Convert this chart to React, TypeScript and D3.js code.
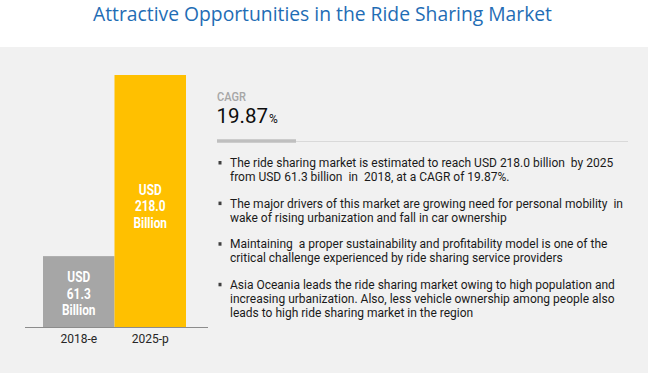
import React from "react";
import * as d3 from "d3";

const categories = ["2018-e", "2025-p"];
const values = [61.3, 218.0];
const barColors = ["#a6a6a6", "#ffc000"];
const title = "Attractive Opportunities in the Ride Sharing Market";
const cagrLabel = "CAGR";
const cagrValue = "19.87";
const bullets: string[][] = [
  [
    "The ride sharing market is estimated to reach USD 218.0 billion  by 2025",
    "from USD 61.3 billion  in  2018, at a CAGR of 19.87%.",
  ],
  [
    "The major drivers of this market are growing need for personal mobility  in",
    "wake of rising urbanization and fall in car ownership",
  ],
  [
    "Maintaining  a proper sustainability and profitability model is one of the",
    "critical challenge experienced by ride sharing service providers",
  ],
  [
    "Asia Oceania leads the ride sharing market owing to high population and",
    "increasing urbanization. Also, less vehicle ownership among people also",
    "leads to high ride sharing market in the region",
  ],
];

export default function App() {
  const W = 650;
  const H = 377;
  const x = d3.scaleBand<string>().domain(categories).range([43, 186]).padding(0);
  const y = d3.scaleLinear().domain([0, 218]).range([327, 75]);
  const bodyFont = "Roboto, 'Liberation Sans', sans-serif";

  let lineY = 167;
  const bulletEls: React.ReactNode[] = [];
  bullets.forEach((para, pi) => {
    para.forEach((line, li) => {
      if (li === 0) {
        bulletEls.push(
          <rect key={`b${pi}`} x={218.5} y={lineY - 6} width={3} height={3.5} fill="#404040" />
        );
      }
      bulletEls.push(
        <text
          key={`t${pi}-${li}`}
          x={230}
          y={lineY}
          fontFamily={bodyFont}
          fontSize={12}
          fill="#1a1a1a"
          style={{ whiteSpace: "pre" }}
        >
          {line}
        </text>
      );
      lineY += 14;
    });
    lineY += 12.6;
  });

  return (
    <svg width={W} height={H} style={{ position: "absolute", left: 0, top: 0, display: "block" }}>
      <rect x={0} y={0} width={W} height={H} fill="#ffffff" />
      <rect x={0} y={47} width={648} height={326} fill="#f1f1f1" />
      <text
        x={322.5}
        y={21}
        textAnchor="middle"
        fontFamily="'Open Sans', sans-serif"
        fontSize={20}
        fill="#1f6db5"
        textLength={459}
        lengthAdjust="spacingAndGlyphs"
      >
        {title}
      </text>
      {categories.map((c, i) => (
        <g key={c}>
          <rect
            x={x(c)!}
            y={y(values[i])}
            width={x.bandwidth()}
            height={y(0) - y(values[i])}
            fill={barColors[i]}
          />
          {["USD", values[i].toFixed(1), "Billion"].map((t, k) => {
            const cy = i === 0 ? 277 : 189.5;
            const cx = x(c)! + x.bandwidth() / 2;
            return (
              <text
                key={k}
                transform={`translate(${cx},${cy + k * 16.6 + 5}) scale(0.82,1)`}
                textAnchor="middle"
                fontFamily={bodyFont}
                fontWeight="bold"
                fontSize={14.5}
                fill="#ffffff"
              >
                {t}
              </text>
            );
          })}
          <text
            x={x(c)! + x.bandwidth() / 2}
            y={343}
            textAnchor="middle"
            fontFamily={bodyFont}
            fontSize={12}
            fill="#262626"
          >
            {c}
          </text>
        </g>
      ))}
      <line x1={25} x2={208} y1={327.5} y2={327.5} stroke="#8c8c8c" strokeWidth={1} />
      <text
        transform="translate(217,101) scale(0.85,1)"
        fontFamily={bodyFont}
        fontWeight={500}
        fontSize={13}
        fill="#a6a6a6"
      >
        {cagrLabel}
      </text>
      <text x={216.5} y={123} fontFamily={bodyFont} fontSize={20.5} fill="#0d0d0d">
        {cagrValue}
        <tspan fontSize={12} dx={1}>%</tspan>
      </text>
      <line x1={217} x2={628} y1={141.5} y2={141.5} stroke="#d9d9d9" strokeWidth={1} />
      <line x1={217} x2={296} y1={141} y2={141} stroke="#bfbfbf" strokeWidth={3.5} />
      {bulletEls}
    </svg>
  );
}
